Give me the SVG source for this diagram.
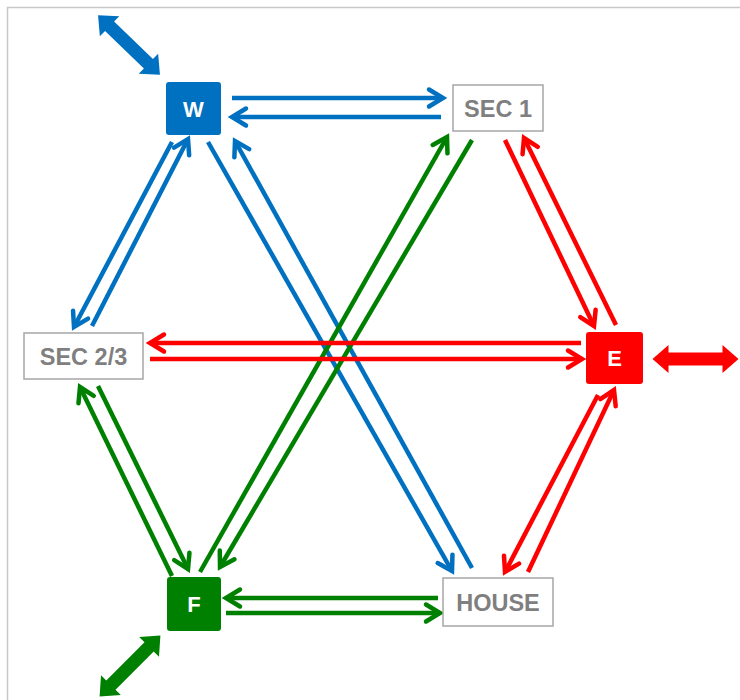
<svg xmlns="http://www.w3.org/2000/svg" width="740" height="700" viewBox="0 0 740 700">
<style>
.frame{stroke:#c8c8c8;stroke-width:1.5;fill:none}
.b{stroke:#0070c0}.r{stroke:#ff0000}.g{stroke:#008000}
.ln{stroke-width:4.5;fill:none;stroke-linecap:butt}
.box{fill:#fff;stroke:#a6a6a6;stroke-width:1.5}
.lbl{font-family:"Liberation Sans",Arial,sans-serif;font-weight:bold;font-size:23.5px;fill:#7f7f7f;text-anchor:middle;dominant-baseline:central}
.wl{font-family:"Liberation Sans",Arial,sans-serif;font-weight:bold;font-size:22px;fill:#fff;text-anchor:middle;dominant-baseline:central}
</style>
<defs>
<marker id="mb" markerUnits="userSpaceOnUse" markerWidth="24" markerHeight="24" viewBox="0 0 24 24" refX="19" refY="12" orient="auto" overflow="visible"><path d="M5,3.5 L19,12 L5,20.5" fill="none" stroke="#0070c0" stroke-width="4.5" stroke-linecap="round" stroke-linejoin="miter"/></marker>
<marker id="mr" markerUnits="userSpaceOnUse" markerWidth="24" markerHeight="24" viewBox="0 0 24 24" refX="19" refY="12" orient="auto" overflow="visible"><path d="M5,3.5 L19,12 L5,20.5" fill="none" stroke="#ff0000" stroke-width="4.5" stroke-linecap="round" stroke-linejoin="miter"/></marker>
<marker id="mg" markerUnits="userSpaceOnUse" markerWidth="24" markerHeight="24" viewBox="0 0 24 24" refX="19" refY="12" orient="auto" overflow="visible"><path d="M5,3.5 L19,12 L5,20.5" fill="none" stroke="#008000" stroke-width="4.5" stroke-linecap="round" stroke-linejoin="miter"/></marker>
<path id="dbl" d="M-43,0 L-27,-14 L-27,-6.5 L27,-6.5 L27,-14 L43,0 L27,14 L27,6.5 L-27,6.5 L-27,14 Z"/>
</defs>
<rect width="740" height="700" fill="#fff"/>
<path class="frame" d="M7.5,700 L7.5,7.5 L740,7.5"/>

<g id="connectors">
  <!-- blue -->
  <line class="ln b" x1="232" y1="98" x2="443" y2="98" marker-end="url(#mb)"/>
  <line class="ln b" x1="441" y1="117" x2="232" y2="117" marker-end="url(#mb)"/>
  <line class="ln b" x1="172" y1="142" x2="74" y2="327" marker-end="url(#mb)"/>
  <line class="ln b" x1="92" y1="326" x2="188" y2="139" marker-end="url(#mb)"/>
  <line class="ln b" x1="208" y1="142" x2="452" y2="571" marker-end="url(#mb)"/>
  <line class="ln b" x1="472" y1="568" x2="235" y2="141" marker-end="url(#mb)"/>
  <!-- green -->
  <line class="ln g" x1="200" y1="572" x2="447" y2="137" marker-end="url(#mg)"/>
  <line class="ln g" x1="472" y1="140" x2="220" y2="567" marker-end="url(#mg)"/>
  <line class="ln g" x1="172" y1="576" x2="80" y2="387" marker-end="url(#mg)"/>
  <line class="ln g" x1="98" y1="386" x2="188" y2="569" marker-end="url(#mg)"/>
  <line class="ln g" x1="438" y1="598" x2="226" y2="598" marker-end="url(#mg)"/>
  <line class="ln g" x1="226" y1="613" x2="440" y2="613" marker-end="url(#mg)"/>
  <!-- red -->
  <line class="ln r" x1="505" y1="140" x2="594" y2="326" marker-end="url(#mr)"/>
  <line class="ln r" x1="616" y1="325" x2="524" y2="138" marker-end="url(#mr)"/>
  <line class="ln r" x1="581" y1="343" x2="150" y2="343" marker-end="url(#mr)"/>
  <line class="ln r" x1="150" y1="359" x2="582" y2="359" marker-end="url(#mr)"/>
  <line class="ln r" x1="598" y1="395" x2="505" y2="572" marker-end="url(#mr)"/>
  <line class="ln r" x1="528" y1="572" x2="614" y2="390" marker-end="url(#mr)"/>
  <!-- big double arrows -->
  <use href="#dbl" fill="#0070c0" transform="translate(129,45) rotate(44)"/>
  <use href="#dbl" fill="#ff0000" transform="translate(695.5,359)"/>
  <use href="#dbl" fill="#008000" transform="translate(130,666) rotate(-45)"/>
</g>

<g id="W"><rect x="166" y="82" width="55" height="53" rx="3" fill="#0070c0"/><text class="wl" x="193.5" y="109">W</text></g>
<g id="SEC1"><rect class="box" x="453" y="85" width="90" height="46"/><text class="lbl" x="498" y="108.5">SEC 1</text></g>
<g id="SEC23"><rect class="box" x="24" y="333" width="119" height="46"/><text class="lbl" x="83.5" y="356.5">SEC 2/3</text></g>
<g id="E"><rect x="586" y="332" width="57" height="52" rx="3" fill="#ff0000"/><text class="wl" x="614.5" y="358.5">E</text></g>
<g id="F"><rect x="167" y="577" width="54" height="54" rx="3" fill="#008000"/><text class="wl" x="194" y="604.5">F</text></g>
<g id="HOUSE"><rect class="box" x="443" y="578" width="110" height="48"/><text class="lbl" x="498" y="602.5">HOUSE</text></g>
</svg>
